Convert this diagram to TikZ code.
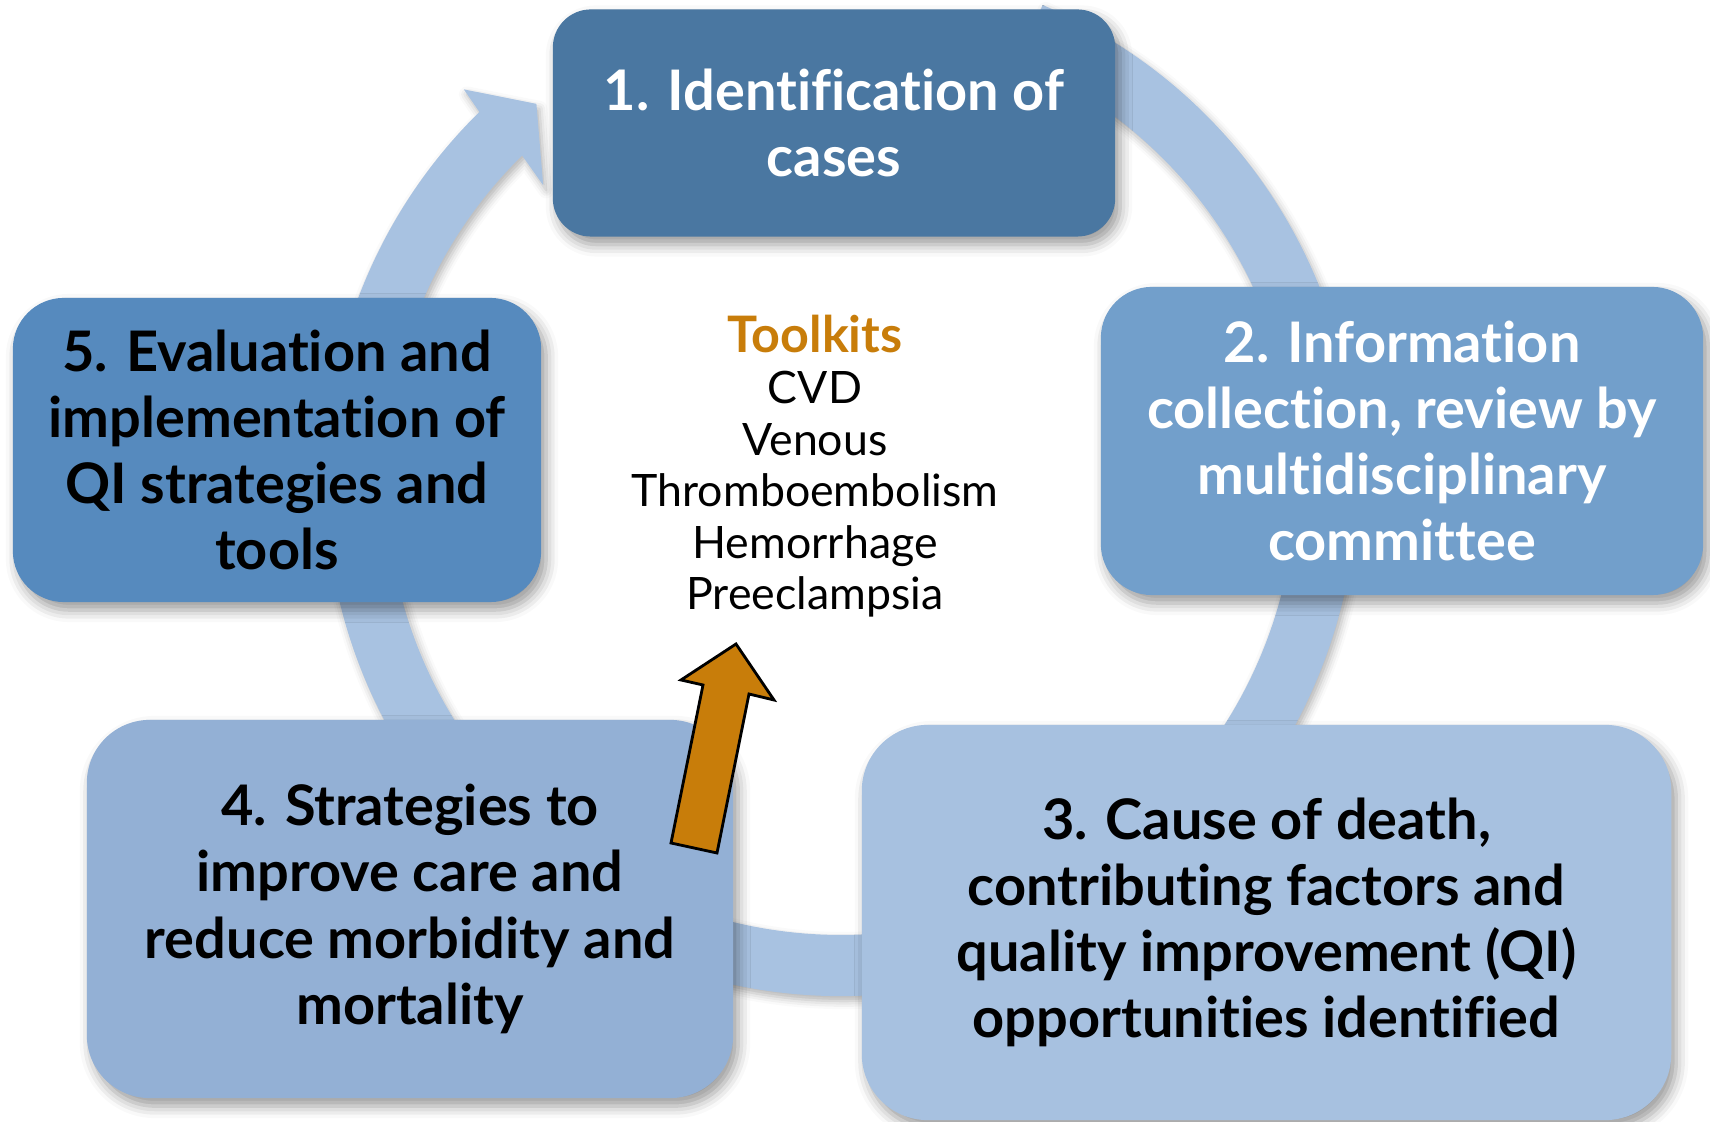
\documentclass[tikz,border=0pt]{standalone}
\usepackage{fontspec}
\setmainfont{Lato}[Ligatures=NoCommon]
\usetikzlibrary{shadows.blur}
\definecolor{stageA}{HTML}{4A77A1}
\definecolor{stageB}{HTML}{729FCB}
\definecolor{stageC}{HTML}{A7C1E0}
\definecolor{stageD}{HTML}{93B0D5}
\definecolor{stageE}{HTML}{568ABE}
\definecolor{ringblue}{HTML}{A8C2E1}
\definecolor{gold}{HTML}{C87D0A}
\begin{document}
\begin{tikzpicture}[x=0.01cm,y=0.01cm,
  softshadow/.style={blur shadow={shadow xshift=0.5mm, shadow yshift=-0.8mm,
      shadow blur radius=1.2mm, shadow opacity=40}},
  stage/.style={rounded corners=#1, inner sep=0pt, align=center, softshadow,
      font=\bfseries\fontsize{15.9}{18.8}\selectfont},
  listtext/.style={align=center, font=\fontsize{12.7}{14.65}\selectfont},
]
\useasboundingbox (0,0) rectangle (1710,1122);

% circular arrow running clockwise behind the stages
\begin{scope}[shift={(841,642)}]
  \fill[ringblue, blur shadow={shadow xshift=0.3mm, shadow yshift=-0.5mm,
      shadow blur radius=0.8mm, shadow opacity=30}]
    (67:516) arc[start angle=67, end angle=-225.5, radius=516]
    -- (134.0:543) -- (129:484) -- (135.3:419) -- (134.5:455)
    arc[start angle=-225.5, end angle=67, radius=455] -- cycle;
\end{scope}

% stages of the cycle
\node[stage=0.38cm, fill=stageA, text=white, minimum width=5.62cm, minimum height=2.27cm]
  (s1) at (834,999) {1. Identification of\\cases};
\node[stage=0.51cm, fill=stageB, text=white, minimum width=6.02cm, minimum height=3.08cm]
  (s2) at (1402,681) {2. Information\\collection, review by\\multidisciplinary\\committee};
\node[stage=0.66cm, fill=stageC, text=black, minimum width=8.09cm, minimum height=3.95cm]
  (s3) at (1266.5,199.5) {3. Cause of death,\\contributing factors and\\quality improvement (QI)\\opportunities identified};
\node[stage=0.63cm, fill=stageD, text=black, minimum width=6.46cm, minimum height=3.78cm]
  (s4) at (410,213) {4. Strategies to\\improve care and\\reduce morbidity and\\mortality};
\node[stage=0.51cm, fill=stageE, text=black, minimum width=5.28cm, minimum height=3.04cm]
  (s5) at (277,672) {5. Evaluation and\\implementation of\\QI strategies and\\tools};

% toolkits in the middle
\node[listtext] (kits) at (815,656)
  {{\bfseries\color{gold}\fontsize{14.3}{14.65}\selectfont Toolkits}\\CVD\\Venous\\Thromboembolism\\Hemorrhage\\Preeclampsia};

% block arrow from stage 4 up to the toolkits
\fill[gold, draw=black, line width=0.8pt, line join=miter]
  (736,478) -- (774,422) -- (749,428) -- (717,269)
  -- (671,279) -- (703,437) -- (681,442) -- cycle;
\end{tikzpicture}
\end{document}
